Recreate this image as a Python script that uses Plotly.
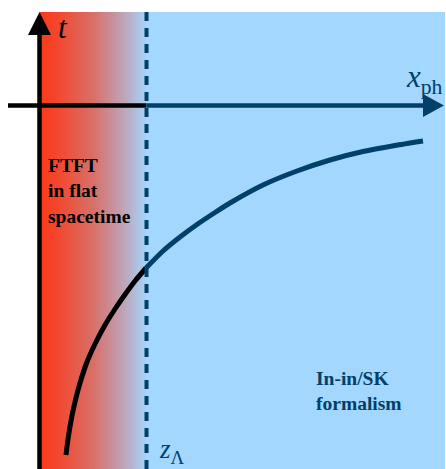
import plotly.graph_objects as go

# Worldline sampled along x_ph (screen-space diagram units, y grows downward)
curve_x = [66, 68, 71, 75, 80, 87, 95, 105, 115, 125, 135, 146,
           163, 180, 197, 215, 230, 263, 297, 330, 363, 395, 423]
curve_t = [455, 439, 421, 402, 383, 362, 344, 325, 309, 294.5, 281, 268,
           251, 237, 224.5, 212.5, 203, 185, 171, 160, 151.5, 145.5, 141]

# Region boundaries
x_axis_pos = 39.5      # t axis
z_lambda = 146.5       # cutoff z_Λ
t_axis_y = 105.5       # x_ph axis
top, bottom, right = 12, 469, 445

RED = "#fb3a18"
BLUE = "#a3d7fd"
NAVY = "#00406a"
SERIF = "Liberation Serif"

fig = go.Figure()

# Light blue in-in region
fig.add_shape(type="rect", x0=z_lambda, x1=right, y0=top, y1=bottom,
              fillcolor=BLUE, line_width=0, layer="below")

# Red-to-blue gradient flat-space region
fig.add_trace(go.Scatter(
    x=[x_axis_pos, z_lambda + 1, z_lambda + 1, x_axis_pos, x_axis_pos],
    y=[top, top, bottom, bottom, top],
    mode="none", fill="toself",
    fillgradient=dict(type="horizontal",
                      colorscale=[[0, RED], [0.15, "#f4452c"], [0.5, "#d77068"],
                                  [0.78, "#bfa4b8"], [1, BLUE]]),
    hoverinfo="skip", showlegend=False))

# Worldline: black inside the cutoff, navy beyond it
split = curve_x.index(146)
fig.add_trace(go.Scatter(x=curve_x[:split + 1], y=curve_t[:split + 1], mode="lines",
                         line=dict(color="black", width=5, shape="spline", smoothing=0.6),
                         hoverinfo="skip", showlegend=False))
fig.add_trace(go.Scatter(x=curve_x[split:], y=curve_t[split:], mode="lines",
                         line=dict(color=NAVY, width=5, shape="spline", smoothing=0.6),
                         hoverinfo="skip", showlegend=False))

# Dashed cutoff line
fig.add_shape(type="line", x0=z_lambda, x1=z_lambda, y0=top, y1=bottom,
              line=dict(color=NAVY, width=4, dash="9px,7px"))

# t axis with arrowhead
fig.add_shape(type="line", x0=x_axis_pos, x1=x_axis_pos, y0=bottom, y1=34,
              line=dict(color="black", width=4.5))
fig.add_shape(type="path",
              path=f"M {x_axis_pos-11.5},35 L {x_axis_pos+11.5},35 L {x_axis_pos},12 Z",
              fillcolor="black", line_width=0)

# x_ph axis: black part then navy part with arrowhead
fig.add_shape(type="line", x0=8, x1=z_lambda, y0=t_axis_y, y1=t_axis_y,
              line=dict(color="black", width=4.5))
fig.add_shape(type="line", x0=z_lambda, x1=424, y0=t_axis_y, y1=t_axis_y,
              line=dict(color=NAVY, width=4.5))
fig.add_shape(type="path",
              path=f"M 423,{t_axis_y-11.5} L 423,{t_axis_y+11.5} L 444,{t_axis_y} Z",
              fillcolor=NAVY, line_width=0)

# Labels
fig.add_annotation(x=56, y=27, text="<i>t</i>", showarrow=False, xanchor="left",
                   yanchor="middle", font=dict(family=SERIF, size=31, color="black"))
fig.add_annotation(x=445, y=79, text="<i>x</i><sub>ph</sub>", showarrow=False,
                   xanchor="right", yanchor="middle",
                   font=dict(family=SERIF, size=31, color=NAVY))
fig.add_annotation(x=157, y=451, text="<i>z</i><sub>Λ</sub>", showarrow=False,
                   xanchor="left", yanchor="middle",
                   font=dict(family=SERIF, size=27, color=NAVY))
fig.add_annotation(x=46, y=191, text="<b>FTFT<br>in flat<br>spacetime</b>",
                   showarrow=False, xanchor="left", yanchor="middle", align="left",
                   font=dict(family=SERIF, size=19.5, color="black"))
fig.add_annotation(x=314, y=391, text="<b>In-in/SK<br>formalism</b>",
                   showarrow=False, xanchor="left", yanchor="middle", align="left",
                   font=dict(family=SERIF, size=19.5, color=NAVY))

fig.update_xaxes(range=[0, 446], visible=False, fixedrange=True)
fig.update_yaxes(range=[469, 0], visible=False, fixedrange=True)
fig.update_layout(width=446, height=469, margin=dict(l=0, r=0, t=0, b=0),
                  paper_bgcolor="white", plot_bgcolor="white")

fig.write_html("out.html")
